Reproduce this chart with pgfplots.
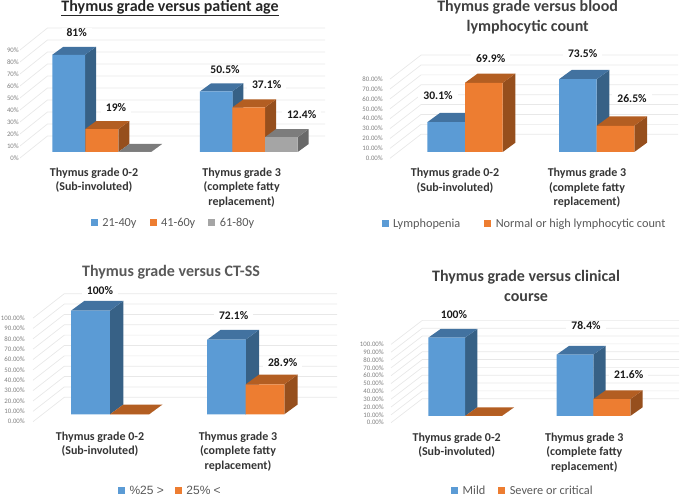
\documentclass[border=0pt]{standalone}
\usepackage{fontspec}
\setmainfont{Carlito}
\newfontfamily\arialish{Liberation Sans}
\usepackage{pgfplots}
\pgfplotsset{compat=1.18}
\definecolor{B}{HTML}{5B9BD5}\definecolor{Bt}{HTML}{4272A0}\definecolor{Bs}{HTML}{376186}
\definecolor{O}{HTML}{ED7D31}\definecolor{Ot}{HTML}{B35E22}\definecolor{Os}{HTML}{964F1D}
\definecolor{G}{HTML}{A5A5A5}\definecolor{Gt}{HTML}{7C7C7C}\definecolor{Gs}{HTML}{696969}
\definecolor{gridc}{HTML}{E8E8E8}\definecolor{txt}{HTML}{595959}\definecolor{tk}{HTML}{7F7F7F}
\newcommand{\cube}[6]{%
  \pgfmathsetmacro{\xa}{#1+#4}\pgfmathsetmacro{\xb}{#2+#4}\pgfmathsetmacro{\yb}{#3+#5}
  \addplot[forget plot,fill=#6s,draw=none] coordinates {(#2,0)(\xb,#5)(\xb,\yb)(#2,#3)} --cycle;
  \addplot[forget plot,fill=#6t,draw=none] coordinates {(#1,#3)(#2,#3)(\xb,\yb)(\xa,\yb)} --cycle;
}
\newcommand{\gridlines}[6]{%
  \pgfplotsinvokeforeach{#1}{%
    \pgfmathsetmacro{\ya}{##1+#5}\pgfmathsetmacro{\yb}{##1+#6}
    \addplot[forget plot,gridc,line width=0.7pt] coordinates {(#2,\ya)(#3,\yb)(#4,\yb)};
  }
}
\tikzset{lab/.style={font=\bfseries\fontsize{11.6}{13}\selectfont,fill=white,inner xsep=5pt,inner ysep=1pt,text=black!90}}
\pgfplotsset{
  swatch/.style={legend image code/.code={\fill[#1] (0pt,-3.5pt) rectangle (7pt,3.5pt);}},
  fr/.style n args={2}{ybar,bar width=#2pt,bar shift=0pt,fill=#1,draw=none,swatch=#1},
  panel/.style={
    scale only axis,clip=false,
    axis line style={draw=none},major tick length=0pt,
    every axis title shift=0pt,
    yticklabel style={font=\fontsize{6.8}{7}\selectfont,text=tk,inner sep=0pt},
    xticklabel style={font=\bfseries\fontsize{12}{14.5}\selectfont,text=txt!60!black,align=center,anchor=north,inner sep=0pt},
    title style={font=\bfseries\fontsize{16}{19.5}\selectfont,align=center,anchor=center},
    legend cell align=left,
    legend style={draw=none,fill=none,anchor=center,legend columns=-1,font=\fontsize{12.3}{13}\selectfont\color{txt},
      inner sep=0pt,/tikz/column 1/.style={column sep=2.5pt},/tikz/column 3/.style={column sep=2.5pt},/tikz/column 5/.style={column sep=2.5pt}},
  },
}
\begin{document}
\begin{tikzpicture}
\path[use as bounding box] (0pt,0pt) rectangle (685pt,497pt);
% ---------- panel 1
\begin{axis}[panel,at={(20pt,339pt)},anchor=south west,width=305pt,height=130pt,
  xmin=20,xmax=325,ymin=-5,ymax=103.33,
  ytick={0,10,20,30,40,50,60,70,80,90},
  yticklabels={0\%,10\%,20\%,30\%,40\%,50\%,60\%,70\%,80\%,90\%},
  yticklabel style={yshift=-6pt,xshift=-1pt},
  xtick={94,241.7},xticklabels={Thymus grade 0-2\\(Sub-involuted),Thymus grade 3\\(complete fatty\\replacement)},
  xticklabel style={yshift=-9.5pt},
  title={\underline{Thymus grade versus patient age}},title style={at={(0.492,1.152)},text=black!85},
  legend style={at={(0.503,-0.5)},/tikz/column 2/.style={column sep=11pt},/tikz/column 4/.style={column sep=11pt}}]
\gridlines{0,10,20,30,40,50,60,70,80,90}{20}{47.5}{325}{-5}{13.33}
\cube{52.3}{85}{81}{11}{6.67}{B}\cube{200}{232.3}{50.5}{11}{6.67}{B}
\addplot[fr={B}{32.7}] coordinates {(68.65,81)(216.15,50.5)};
\cube{85}{118.3}{19}{11}{6.67}{O}\cube{232.3}{265}{37.1}{11}{6.67}{O}
\addplot[fr={O}{32.7}] coordinates {(101.65,19)(248.65,37.1)};
\cube{118.3}{151}{0}{11}{6.67}{G}\cube{265}{297.7}{12.4}{11}{6.67}{G}
\addplot[fr={G}{32.7}] coordinates {(134.65,0)(281.35,12.4)};
\legend{21-40y,41-60y,61-80y}
\node[lab] at (axis cs:76.7,99.2) {81\%};
\node[lab] at (axis cs:116,36.7) {19\%};
\node[lab] at (axis cs:225,68.3) {50.5\%};
\node[lab] at (axis cs:266.7,56.4) {37.1\%};
\node[lab] at (axis cs:301.7,30.8) {12.4\%};
\end{axis}
% ---------- panel 2
\begin{axis}[panel,at={(390pt,338.7pt)},anchor=south west,width=288pt,height=103.3pt,
  xmin=390,xmax=678,ymin=-6.36,ymax=98,
  ytick={0,10,20,30,40,50,60,70,80},
  yticklabels={0.00\%,10.00\%,20.00\%,30.00\%,40.00\%,50.00\%,60.00\%,70.00\%,80.00\%},
  yticklabel style={yshift=-6.3pt,xshift=-7pt},
  xtick={455,587},xticklabels={Thymus grade 0-2\\(Sub-involuted),Thymus grade 3\\(complete fatty\\replacement)},
  xticklabel style={yshift=-10pt},
  title={Thymus grade versus blood\\lymphocytic count},title style={at={(0.478,1.368)},text=black!75},
  legend style={at={(0.467,-0.636)},/tikz/column 2/.style={column sep=22pt}}]
\gridlines{0,10,20,30,40,50,60,70,80}{390}{421}{678}{-6.36}{17.9}
\cube{427.3}{465}{30.1}{12.7}{9.4}{B}\cube{559}{596.7}{73.5}{12.7}{9.4}{B}
\addplot[fr={B}{37.7}] coordinates {(446.15,30.1)(577.85,73.5)};
\cube{465}{502.7}{69.9}{12.7}{9.4}{O}\cube{596.7}{634.3}{26.5}{12.7}{9.4}{O}
\addplot[fr={O}{37.7}] coordinates {(483.85,69.9)(615.5,26.5)};
\legend{Lymphopenia,Normal or high lymphocytic count}
\node[lab] at (axis cs:490.7,94.6) {69.9\%};
\node[lab] at (axis cs:438,57.3) {30.1\%};
\node[lab] at (axis cs:582.7,99.7) {73.5\%};
\node[lab] at (axis cs:632,54.2) {26.5\%};
\end{axis}
% ---------- panel 3
\begin{axis}[panel,at={(33pt,75.3pt)},anchor=south west,width=304pt,height=128.1pt,
  xmin=33,xmax=337,ymin=-7.14,ymax=116.5,
  ytick={0,10,20,30,40,50,60,70,80,90,100},
  yticklabels={0.00\%,10.00\%,20.00\%,30.00\%,40.00\%,50.00\%,60.00\%,70.00\%,80.00\%,90.00\%,100.00\%},
  yticklabel style={yshift=-7.4pt,xshift=-8pt},
  xtick={100,238},xticklabels={Thymus grade 0-2\\(Sub-involuted),Thymus grade 3\\(complete fatty\\replacement)},
  xticklabel style={yshift=-10pt},
  title={Thymus grade versus CT-SS},title style={at={(0.454,1.17)},text=txt},
  legend style={at={(0.452,-0.538)},font=\arialish\fontsize{12}{13}\selectfont\color{txt},/tikz/column 2/.style={column sep=9pt}}]
\gridlines{0,10,20,30,40,50,60,70,80,90,100}{33}{64.3}{337}{-7.14}{16.41}
\cube{71}{110}{100}{13.3}{9.4}{B}\cube{207.3}{245.7}{72.1}{13.3}{9.4}{B}
\addplot[fr={B}{38.7}] coordinates {(90.5,100)(226.5,72.1)};
\cube{110}{149}{0}{13.3}{9.4}{O}\cube{245.7}{284.3}{28.9}{13.3}{9.4}{O}
\addplot[fr={O}{38.7}] coordinates {(129.5,0)(265,28.9)};
\legend{\%25 >,25\% <}
\node[lab] at (axis cs:100,119) {100\%};
\node[lab] at (axis cs:233.7,95.2) {72.1\%};
\node[lab] at (axis cs:282.7,50.4) {28.9\%};
\end{axis}
% ---------- panel 4
\begin{axis}[panel,at={(391pt,74.3pt)},anchor=south west,width=288pt,height=102.4pt,
  xmin=391,xmax=679,ymin=-8.56,ymax=122.2,
  ytick={0,10,20,30,40,50,60,70,80,90,100},
  yticklabels={0.00\%,10.00\%,20.00\%,30.00\%,40.00\%,50.00\%,60.00\%,70.00\%,80.00\%,90.00\%,100.00\%},
  yticklabel style={yshift=-6.7pt,xshift=-7pt},
  xtick={456.7,584.3},xticklabels={Thymus grade 0-2\\(Sub-involuted),Thymus grade 3\\(complete fatty\\replacement)},
  xticklabel style={yshift=-10pt},
  title={Thymus grade versus clinical\\course},title style={at={(0.469,1.337)},text=black!75},
  legend style={at={(0.458,-0.665)},/tikz/column 2/.style={column sep=11pt}}]
\gridlines{0,10,20,30,40,50,60,70,80,90,100}{391}{422.3}{679}{-8.56}{22.09}
\cube{428.3}{465}{100}{12.3}{11.1}{B}\cube{556.7}{593.3}{78.4}{12.3}{11.1}{B}
\addplot[fr={B}{36.7}] coordinates {(446.65,100)(575,78.4)};
\cube{465}{501.7}{0}{12.3}{11.1}{O}\cube{593.3}{630.3}{21.6}{12.3}{11.1}{O}
\addplot[fr={O}{36.8}] coordinates {(483.35,0)(611.8,21.6)};
\legend{Mild,Severe or critical}
\node[lab] at (axis cs:454,129) {100\%};
\node[lab] at (axis cs:586,114.9) {78.4\%};
\node[lab] at (axis cs:628.7,53.3) {21.6\%};
\end{axis}
\end{tikzpicture}
\end{document}
